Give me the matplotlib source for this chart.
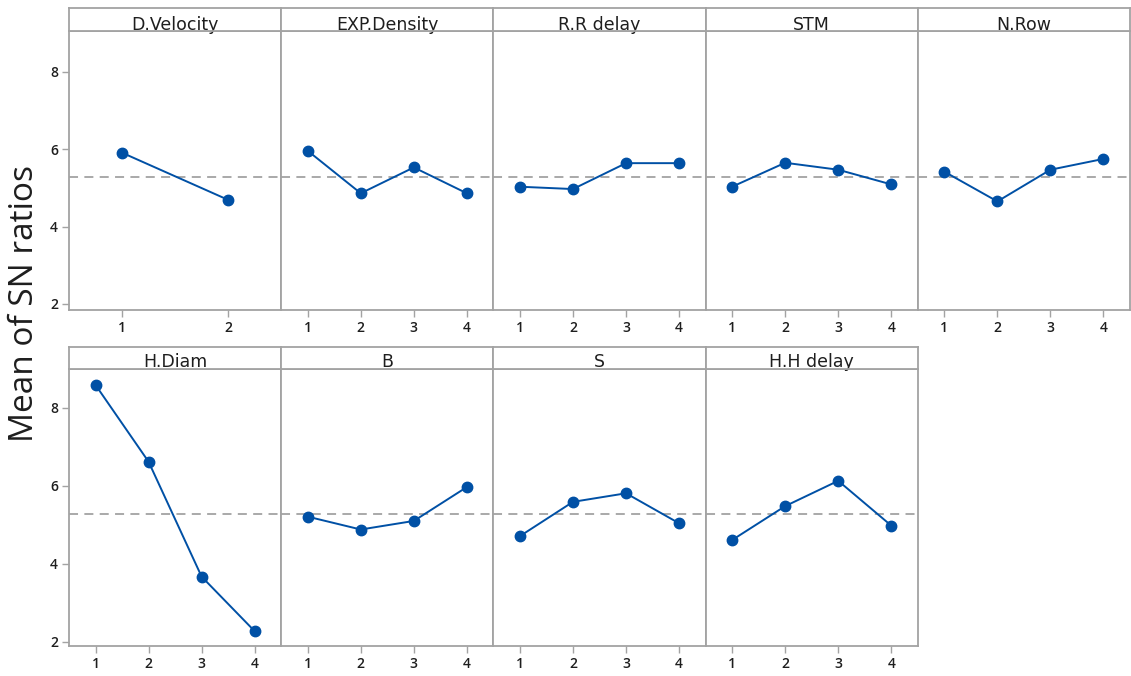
import matplotlib
matplotlib.use("Agg")
import matplotlib.pyplot as plt

plt.rcParams['font.family'] = ['Open Sans', 'DejaVu Sans']

factors = ["D.Velocity", "EXP.Density", "R.R delay", "STM", "N.Row",
           "H.Diam", "B", "S", "H.H delay"]
levels = {
    "D.Velocity": [1, 2],
    "EXP.Density": [1, 2, 3, 4],
    "R.R delay": [1, 2, 3, 4],
    "STM": [1, 2, 3, 4],
    "N.Row": [1, 2, 3, 4],
    "H.Diam": [1, 2, 3, 4],
    "B": [1, 2, 3, 4],
    "S": [1, 2, 3, 4],
    "H.H delay": [1, 2, 3, 4],
}
d_velocity = [5.91, 4.69]
exp_density = [5.96, 4.86, 5.53, 4.86]
rr_delay = [5.03, 4.97, 5.64, 5.64]
stm = [5.03, 5.65, 5.47, 5.09]
n_row = [5.42, 4.65, 5.47, 5.75]
h_diam = [8.59, 6.62, 3.67, 2.27]
b_vals = [5.21, 4.88, 5.10, 5.97]
s_vals = [4.71, 5.59, 5.81, 5.04]
hh_delay = [4.61, 5.48, 6.13, 4.98]
means = [d_velocity, exp_density, rr_delay, stm, n_row,
         h_diam, b_vals, s_vals, hh_delay]
grand_mean = 5.29
y_ticks = [2, 4, 6, 8]
y_label = "Mean of SN ratios"

W, H = 1131, 676
fig = plt.figure(figsize=(W / 100, H / 100), dpi=100)

blue = "#0050A5"
gray = "#A3A3A3"
txt = "#1E1E1E"

left = 69
panel_w = (1130 - 69) / 5.0
rows = [(31, 310, 8, 0.05), (369, 646, 347, 0.08)]  # plot top, plot bottom, strip top, title baseline

for i, (name, vals) in enumerate(zip(factors, means)):
    r = i // 5
    c = i % 5
    top, bot, stop, base = rows[r]
    x0 = left + c * panel_w
    ax = fig.add_axes([x0 / W, 1 - bot / H, panel_w / W, (bot - top) / H])
    xs = levels[name]
    ax.axhline(grand_mean, color=gray, lw=1.3, ls=(0, (5, 3.5)), zorder=1)
    ax.plot(xs, vals, color=blue, lw=1.4, marker="o", ms=7.5,
            markerfacecolor=blue, markeredgecolor=blue, zorder=3)
    ax.set_xlim(0.5, len(xs) + 0.5)
    if r == 0:
        ax.set_ylim(1.84, 9.06)
    else:
        ax.set_ylim(1.89, 9.0)
    ax.set_xticks(xs)
    ax.set_xticklabels([str(x) for x in xs], fontweight="semibold")
    ax.set_yticks(y_ticks)
    if c == 0:
        ax.set_yticklabels([str(t) for t in y_ticks], fontweight="semibold")
        ax.tick_params(axis="y", length=5, width=1, color=gray,
                       labelsize=10, pad=3, labelcolor=txt)
    else:
        ax.tick_params(axis="y", left=False, labelleft=False)
    ax.tick_params(axis="x", length=5, width=1, color=gray,
                   labelsize=10, pad=3, labelcolor=txt)
    for sp in ax.spines.values():
        sp.set_color(gray)
        sp.set_linewidth(1.3)
    # strip
    sax = fig.add_axes([x0 / W, 1 - top / H, panel_w / W, (top - stop) / H])
    sax.set_xticks([])
    sax.set_yticks([])
    for sp in sax.spines.values():
        sp.set_color(gray)
        sp.set_linewidth(1.3)
    sax.text(0.5, base, name, ha="center", va="baseline", fontsize=12.5,
             color=txt, transform=sax.transAxes,
             family=["DejaVu Sans"], zorder=0)

fig.text(25 / W, 1 - 303 / H, y_label, rotation=90, ha="center",
         va="center", fontsize=24, color=txt)

fig.savefig("out.png", dpi=100)
